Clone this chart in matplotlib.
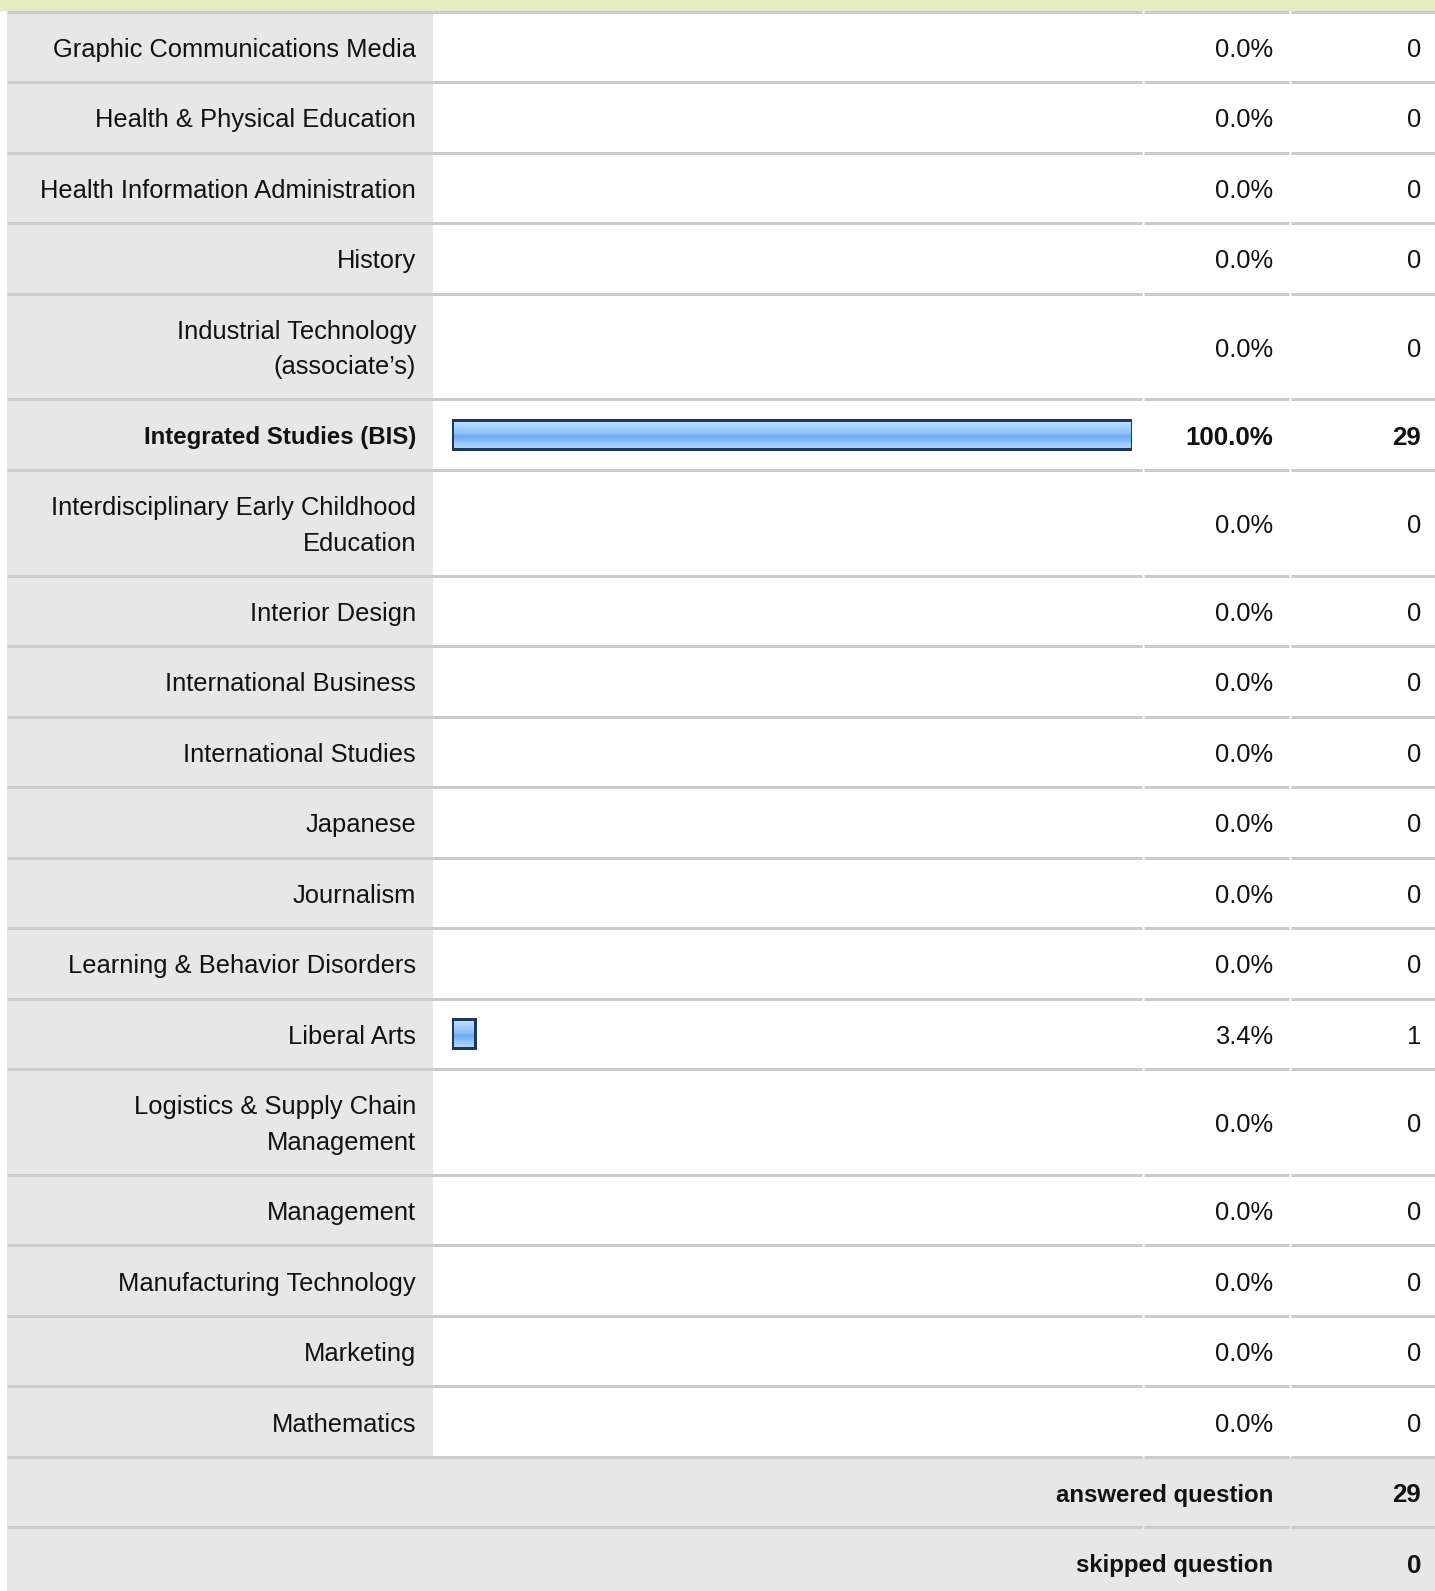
import numpy as np
import matplotlib.pyplot as plt
from matplotlib.patches import Rectangle
from matplotlib.colors import LinearSegmentedColormap

# survey rows
labels = [
    'Graphic Communications Media',
    'Health & Physical Education',
    'Health Information Administration',
    'History',
    'Industrial Technology\n(associate\u2019s)',
    'Integrated Studies (BIS)',
    'Interdisciplinary Early Childhood\nEducation',
    'Interior Design',
    'International Business',
    'International Studies',
    'Japanese',
    'Journalism',
    'Learning & Behavior Disorders',
    'Liberal Arts',
    'Logistics & Supply Chain\nManagement',
    'Management',
    'Manufacturing Technology',
    'Marketing',
    'Mathematics',
]
percents = [0.0, 0.0, 0.0, 0.0, 0.0, 100.0, 0.0, 0.0, 0.0, 0.0,
            0.0, 0.0, 0.0, 3.4, 0.0, 0.0, 0.0, 0.0, 0.0]
counts = [0, 0, 0, 0, 0, 29, 0, 0, 0, 0, 0, 0, 0, 1, 0, 0, 0, 0, 0]
summary_labels = ['answered question', 'skipped question']
summary_values = [29, 0]

W, H = 1435, 1591
grey = '#e7e7e7'
line_c = '#cbcbcb'
yellow = '#e6ecc0'
txt_c = '#111111'
font = 'Liberation Sans'
fs, fs_b, fs_bn = 18.4, 17.3, 18.6

fig = plt.figure(figsize=(W / 100, H / 100), dpi=100)
ax = fig.add_axes([0, 0, 1, 1])
ax.set_xlim(0, W)
ax.set_ylim(H, 0)
ax.axis('off')

# column geometry (pixels)
left, lab_right = 7, 433
lab_x, pct_x, cnt_x = 416, 1273, 1421
gaps = [1143, 1290]
row_h = 70.5
line_gap = 35.5
lw_px = 3 * 72 / 100

ax.add_patch(Rectangle((0, 0), W, 10.5, color=yellow, lw=0))


def hline(y):
    xs = [left] + gaps + [W]
    for i in range(len(xs) - 1):
        a = xs[i] + (1 if i > 0 else 0)
        b = xs[i + 1] - (1 if i < len(xs) - 2 else 0)
        ax.plot([a, b], [y, y], color=line_c, lw=lw_px, solid_capstyle='butt', zorder=2)


def put(x, mid, s, size, bold=False):
    # baseline placement so that capitals sit centred in the row
    cap = size / 72 * 100 * 0.716
    lines = s.split('\n')
    n = len(lines)
    for i, ln in enumerate(lines):
        yb = mid + cap / 2 + 1 + (i - (n - 1) / 2) * line_gap
        ax.text(x, yb, ln, ha='right', va='baseline', fontsize=size, family=font,
                color=txt_c, weight='bold' if bold else 'normal')


y = 11.5
centers = []
for lab, p, c in zip(labels, percents, counts):
    n = lab.count('\n') + 1
    h = row_h * (1 + 0.5 * (n - 1))
    ax.add_patch(Rectangle((left, y), lab_right - left, h, color=grey, lw=0, zorder=1))
    hline(y)
    mid = y + h / 2
    centers.append(mid)
    b = c == max(counts)
    put(lab_x, mid, lab, fs_b if b else fs, b)
    put(pct_x, mid, f'{p:.1f}%', fs_bn if b else fs, b)
    put(cnt_x, mid, str(c), fs_bn if b else fs, b)
    y += h

for lab, v in zip(summary_labels, summary_values):
    ax.add_patch(Rectangle((left, y), W - left, row_h, color=grey, lw=0, zorder=1))
    hline(y)
    mid = y + row_h / 2
    put(pct_x, mid, lab, fs_b, True)
    put(cnt_x, mid, str(v), fs_bn, True)
    y += row_h

# bar axes: 0..100 % across the bar column
bx = fig.add_axes([451.5 / W, 0, (1131.5 - 451.5) / W, 1])
bx.set_xlim(0, 100)
bx.set_ylim(H, 0)
bx.axis('off')
bx.patch.set_alpha(0)

cmap = LinearSegmentedColormap.from_list('bar', [
    (0.0, '#cde5ff'), (0.2, '#a9d3ff'), (0.45, '#8ec2fb'), (0.55, '#74adee'),
    (0.7, '#7fb6f2'), (0.8, '#99c9fc'), (1.0, '#b0d7ff')])
grad = np.linspace(0, 1, 64).reshape(-1, 1)

nz = [i for i, p in enumerate(percents) if p > 0]
bars = bx.barh([centers[i] for i in nz], [percents[i] for i in nz], height=29,
               facecolor='none', edgecolor='#1c375a', lw=lw_px, zorder=5)
for b in bars:
    x0, y0, w, h = b.get_x(), b.get_y(), b.get_width(), b.get_height()
    im = bx.imshow(grad, extent=(x0, x0 + w, y0 + h, y0), aspect='auto',
                   cmap=cmap, origin='upper', zorder=4)
    im.set_clip_path(b)
bx.set_xlim(0, 100)
bx.set_ylim(H, 0)

fig.savefig('out.png', dpi=100)
